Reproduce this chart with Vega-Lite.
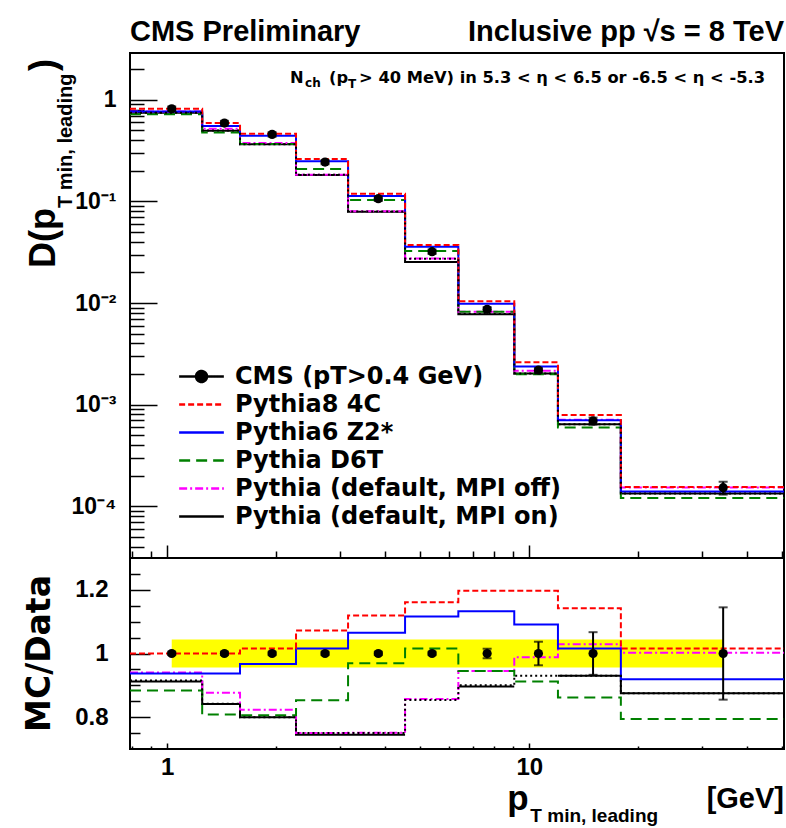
{
  "$schema": "https://vega.github.io/schema/vega-lite/v6.json",
  "padding": {"left": 22, "top": 17, "right": 2, "bottom": 0},
  "background": "white",
  "datasets": {
    "hist": [
      {"s": "Pythia (default, MPI on)", "i": 1, "x0": 0.79, "x1": 1.25, "v": 0.7451, "r": 0.912},
      {"s": "Pythia (default, MPI on)", "i": 2, "x0": 1.25, "x1": 1.59, "v": 0.497, "r": 0.841},
      {"s": "Pythia (default, MPI on)", "i": 3, "x0": 1.59, "x1": 2.27, "v": 0.3656, "r": 0.80},
      {"s": "Pythia (default, MPI on)", "i": 4, "x0": 2.27, "x1": 3.16, "v": 0.1818, "r": 0.745},
      {"s": "Pythia (default, MPI on)", "i": 5, "x0": 3.16, "x1": 4.54, "v": 0.0792, "r": 0.745},
      {"s": "Pythia (default, MPI on)", "i": 6, "x0": 4.54, "x1": 6.37, "v": 0.0253, "r": null},
      {"s": "Pythia (default, MPI on)", "i": 7, "x0": 6.37, "x1": 9.09, "v": 0.007768, "r": 0.896},
      {"s": "Pythia (default, MPI on)", "i": 8, "x0": 9.09, "x1": 12.0, "v": 0.002027, "r": null},
      {"s": "Pythia (default, MPI on)", "i": 9, "x0": 12.0, "x1": 17.9, "v": 0.0006417, "r": 0.93},
      {"s": "Pythia (default, MPI on)", "i": 10, "x0": 17.9, "x1": 50.5, "v": 0.000133, "r": 0.875},
      {"s": "Pythia (default, MPI off)", "i": 1, "x0": 0.79, "x1": 1.25, "v": 0.768, "r": 0.94},
      {"s": "Pythia (default, MPI off)", "i": 2, "x0": 1.25, "x1": 1.59, "v": 0.5183, "r": 0.877},
      {"s": "Pythia (default, MPI off)", "i": 3, "x0": 1.59, "x1": 2.27, "v": 0.3761, "r": 0.823},
      {"s": "Pythia (default, MPI off)", "i": 4, "x0": 2.27, "x1": 3.16, "v": 0.183, "r": 0.75},
      {"s": "Pythia (default, MPI off)", "i": 5, "x0": 3.16, "x1": 4.54, "v": 0.07983, "r": 0.751},
      {"s": "Pythia (default, MPI off)", "i": 6, "x0": 4.54, "x1": 6.37, "v": 0.02742, "r": 0.857},
      {"s": "Pythia (default, MPI off)", "i": 7, "x0": 6.37, "x1": 9.09, "v": 0.008193, "r": 0.945},
      {"s": "Pythia (default, MPI off)", "i": 8, "x0": 9.09, "x1": 12.0, "v": 0.002154, "r": 0.988},
      {"s": "Pythia (default, MPI off)", "i": 9, "x0": 12.0, "x1": 17.9, "v": 0.00071, "r": 1.029},
      {"s": "Pythia (default, MPI off)", "i": 10, "x0": 17.9, "x1": 50.5, "v": 0.0001523, "r": 1.002},
      {"s": "Pythia D6T", "i": 1, "x0": 0.79, "x1": 1.25, "v": 0.7222, "r": 0.884},
      {"s": "Pythia D6T", "i": 2, "x0": 1.25, "x1": 1.59, "v": 0.4775, "r": 0.808},
      {"s": "Pythia D6T", "i": 3, "x0": 1.59, "x1": 2.27, "v": 0.3683, "r": 0.806},
      {"s": "Pythia D6T", "i": 4, "x0": 2.27, "x1": 3.16, "v": 0.2081, "r": 0.853},
      {"s": "Pythia D6T", "i": 5, "x0": 3.16, "x1": 4.54, "v": 0.103, "r": 0.969},
      {"s": "Pythia D6T", "i": 6, "x0": 4.54, "x1": 6.37, "v": 0.03251, "r": 1.016},
      {"s": "Pythia D6T", "i": 7, "x0": 6.37, "x1": 9.09, "v": 0.008193, "r": 0.945},
      {"s": "Pythia D6T", "i": 8, "x0": 9.09, "x1": 12.0, "v": 0.001988, "r": 0.912},
      {"s": "Pythia D6T", "i": 9, "x0": 12.0, "x1": 17.9, "v": 0.0005948, "r": 0.862},
      {"s": "Pythia D6T", "i": 10, "x0": 17.9, "x1": 50.5, "v": 0.0001207, "r": 0.794},
      {"s": "Pythia6 Z2*", "i": 1, "x0": 0.79, "x1": 1.25, "v": 0.7655, "r": 0.937},
      {"s": "Pythia6 Z2*", "i": 2, "x0": 1.25, "x1": 1.59, "v": 0.5538, "r": 0.937},
      {"s": "Pythia6 Z2*", "i": 3, "x0": 1.59, "x1": 2.27, "v": 0.4419, "r": 0.967},
      {"s": "Pythia6 Z2*", "i": 4, "x0": 2.27, "x1": 3.16, "v": 0.2479, "r": 1.016},
      {"s": "Pythia6 Z2*", "i": 5, "x0": 3.16, "x1": 4.54, "v": 0.1132, "r": 1.065},
      {"s": "Pythia6 Z2*", "i": 6, "x0": 4.54, "x1": 6.37, "v": 0.03571, "r": 1.116},
      {"s": "Pythia6 Z2*", "i": 7, "x0": 6.37, "x1": 9.09, "v": 0.009823, "r": 1.133},
      {"s": "Pythia6 Z2*", "i": 8, "x0": 9.09, "x1": 12.0, "v": 0.002378, "r": 1.091},
      {"s": "Pythia6 Z2*", "i": 9, "x0": 12.0, "x1": 17.9, "v": 0.000701, "r": 1.016},
      {"s": "Pythia6 Z2*", "i": 10, "x0": 17.9, "x1": 50.5, "v": 0.0001397, "r": 0.919},
      {"s": "Pythia8 4C", "i": 1, "x0": 0.79, "x1": 1.25, "v": 0.817, "r": 1.0},
      {"s": "Pythia8 4C", "i": 2, "x0": 1.25, "x1": 1.59, "v": 0.591, "r": 1.0},
      {"s": "Pythia8 4C", "i": 3, "x0": 1.59, "x1": 2.27, "v": 0.4643, "r": 1.016},
      {"s": "Pythia8 4C", "i": 4, "x0": 2.27, "x1": 3.16, "v": 0.2616, "r": 1.072},
      {"s": "Pythia8 4C", "i": 5, "x0": 3.16, "x1": 4.54, "v": 0.119, "r": 1.119},
      {"s": "Pythia8 4C", "i": 6, "x0": 4.54, "x1": 6.37, "v": 0.03715, "r": 1.161},
      {"s": "Pythia8 4C", "i": 7, "x0": 6.37, "x1": 9.09, "v": 0.01038, "r": 1.197},
      {"s": "Pythia8 4C", "i": 8, "x0": 9.09, "x1": 12.0, "v": 0.002609, "r": 1.197},
      {"s": "Pythia8 4C", "i": 9, "x0": 12.0, "x1": 17.9, "v": 0.000788, "r": 1.142},
      {"s": "Pythia8 4C", "i": 10, "x0": 17.9, "x1": 50.5, "v": 0.0001544, "r": 1.016},
      {"s": "alt", "i": 1, "x0": 0.79, "x1": 1.25, "v": 0.7476, "r": 0.915},
      {"s": "alt", "i": 2, "x0": 1.25, "x1": 1.59, "v": 0.4976, "r": 0.842},
      {"s": "alt", "i": 3, "x0": 1.59, "x1": 2.27, "v": 0.3656, "r": 0.80},
      {"s": "alt", "i": 4, "x0": 2.27, "x1": 3.16, "v": 0.183, "r": 0.75},
      {"s": "alt", "i": 5, "x0": 3.16, "x1": 4.54, "v": 0.0797, "r": 0.75},
      {"s": "alt", "i": 6, "x0": 4.54, "x1": 6.37, "v": 0.02733, "r": 0.854},
      {"s": "alt", "i": 7, "x0": 6.37, "x1": 9.09, "v": 0.007803, "r": 0.90},
      {"s": "alt", "i": 8, "x0": 9.09, "x1": 12.0, "v": 0.002027, "r": 0.93},
      {"s": "alt", "i": 9, "x0": 12.0, "x1": 17.9, "v": 0.0006417, "r": 0.93},
      {"s": "alt", "i": 10, "x0": 17.9, "x1": 50.5, "v": 0.000133, "r": 0.875}
    ],
    "pts": [
      {"x": 1.03, "y": 0.817, "yl": 0.776, "yh": 0.858, "r": 1, "rl": 0.995, "rh": 1.005, "bl": 0.956, "bh": 1.044},
      {"x": 1.44, "y": 0.591, "yl": 0.561, "yh": 0.621, "r": 1, "rl": 0.995, "rh": 1.005, "bl": 0.956, "bh": 1.044},
      {"x": 1.95, "y": 0.457, "yl": 0.434, "yh": 0.48, "r": 1, "rl": 0.995, "rh": 1.005, "bl": 0.956, "bh": 1.044},
      {"x": 2.73, "y": 0.244, "yl": 0.232, "yh": 0.256, "r": 1, "rl": 0.995, "rh": 1.005, "bl": 0.956, "bh": 1.044},
      {"x": 3.83, "y": 0.1063, "yl": 0.101, "yh": 0.1116, "r": 1, "rl": 0.995, "rh": 1.005, "bl": 0.956, "bh": 1.044},
      {"x": 5.39, "y": 0.032, "yl": 0.0304, "yh": 0.0336, "r": 1, "rl": 0.995, "rh": 1.005, "bl": 0.956, "bh": 1.044},
      {"x": 7.65, "y": 0.00867, "yl": 0.00824, "yh": 0.0091, "r": 1, "rl": 0.985, "rh": 1.015, "bl": 0.956, "bh": 1.044},
      {"x": 10.6, "y": 0.00218, "yl": 0.00207, "yh": 0.00229, "r": 1, "rl": 0.963, "rh": 1.037, "bl": 0.956, "bh": 1.044},
      {"x": 15.0, "y": 0.00069, "yl": 0.000635, "yh": 0.000745, "r": 1, "rl": 0.933, "rh": 1.067, "bl": 0.956, "bh": 1.044},
      {"x": 34.3, "y": 0.000152, "yl": 0.00013, "yh": 0.000174, "r": 1, "rl": 0.855, "rh": 1.145, "bl": 0.956, "bh": 1.044}
    ],
    "one": [{}]
  },
  "config": {
    "view": {"stroke": "black", "strokeWidth": 2},
    "axis": {"domain": false, "grid": false, "labelFont": "Liberation Sans", "labelFontWeight": "bold", "labelFontSize": 24, "labelColor": "black", "tickColor": "black", "tickWidth": 1.5, "labelOverlap": false, "labelBound": false, "title": null},
    "text": {"font": "Liberation Sans", "fontWeight": "bold", "color": "black"}
  },
  "spacing": 0,
  "bounds": "flush",
  "resolve": {"scale": {"color": "independent", "strokeDash": "independent"}},
  "vconcat": [
    {
      "width": 654,
      "height": 505,
      "layer": [
        {
          "data": {"name": "hist"},
          "transform": [{"filter": "datum.s !== 'alt'"}, {"fold": ["x0", "x1"], "as": ["edge", "xe"]}],
          "mark": {"type": "line", "strokeWidth": 2},
          "encoding": {
            "x": {"field": "xe", "type": "quantitative", "scale": {"type": "log", "domain": [0.79, 50.5], "nice": false},
              "axis": {"orient": "bottom", "title": null, "labels": false, "values": [0.8, 0.9, 1, 2, 3, 4, 5, 6, 7, 8, 9, 10, 20, 30, 40, 50],
                "tickSize": {"condition": {"test": "datum.value === 1 || datum.value === 10", "value": -13}, "value": -7}}},
            "y": {"field": "v", "type": "quantitative", "scale": {"type": "log", "domain": [0.0000309, 2.89], "nice": false},
              "axis": {"orient": "left", "title": null,
                "values": [0.00004, 0.00005, 0.00006, 0.00007, 0.00008, 0.00009, 0.0001, 0.0002, 0.0003, 0.0004, 0.0005, 0.0006, 0.0007, 0.0008, 0.0009, 0.001, 0.002, 0.003, 0.004, 0.005, 0.006, 0.007, 0.008, 0.009, 0.01, 0.02, 0.03, 0.04, 0.05, 0.06, 0.07, 0.08, 0.09, 0.1, 0.2, 0.3, 0.4, 0.5, 0.6, 0.7, 0.8, 0.9, 1, 2],
                "labelExpr": "datum.value === 1 ? '1' : datum.value === 0.1 ? '10⁻¹' : datum.value === 0.01 ? '10⁻²' : datum.value === 0.001 ? '10⁻³' : datum.value === 0.0001 ? '10⁻⁴' : ''",
                "tickSize": {"condition": {"test": "datum.value === 1 || datum.value === 0.1 || datum.value === 0.01 || datum.value === 0.001 || datum.value === 0.0001", "value": -27}, "value": -14},
                "labelFontSize": 23,
                "labelPadding": 41}},
            "color": {"field": "s", "type": "nominal",
              "scale": {"domain": ["CMS (pT>0.4 GeV)", "Pythia8 4C", "Pythia6 Z2*", "Pythia D6T", "Pythia (default, MPI off)", "Pythia (default, MPI on)"],
                "range": ["#000000", "#ff0000", "#0000ff", "#008000", "#ff00ff", "#000000"]},
              "legend": {"title": null, "orient": "none", "legendX": 59, "legendY": 311, "labelFont": "DejaVu Sans", "labelFontWeight": "bold", "labelFontSize": 24, "labelColor": "black",
                "symbolType": "M-2,0H2", "symbolSize": 500, "symbolStrokeWidth": 2.5, "rowPadding": 3, "labelOffset": 21, "labelLimit": 600,
                "encode": {"symbols": {"update": {
                  "shape": {"signal": "datum.value === 'CMS (pT>0.4 GeV)' ? 'M-2,0H2M0.49,0A0.49,0.49,0,1,1,-0.49,0A0.49,0.49,0,1,1,0.49,0Z' : 'M-2,0H2'"},
                  "fill": {"signal": "datum.value === 'CMS (pT>0.4 GeV)' ? 'black' : 'transparent'"}}}}}},
            "strokeDash": {"field": "s", "type": "nominal",
              "scale": {"domain": ["CMS (pT>0.4 GeV)", "Pythia8 4C", "Pythia6 Z2*", "Pythia D6T", "Pythia (default, MPI off)", "Pythia (default, MPI on)"],
                "range": [[1, 0], [6, 3], [1, 0], [11, 6], [8, 3, 2, 3], [1, 0]]},
              "legend": {"title": null, "orient": "none", "legendX": 59, "legendY": 311}},
            "order": [{"field": "i", "type": "quantitative"}, {"field": "edge", "type": "ordinal"}]
          }
        },
        {
          "data": {"name": "hist"},
          "transform": [{"filter": "datum.s === 'alt'"}, {"fold": ["x0", "x1"], "as": ["edge", "xe"]}],
          "mark": {"type": "line", "strokeWidth": 2, "color": "black", "strokeDash": [2, 3]},
          "encoding": {
            "x": {"field": "xe", "type": "quantitative"},
            "y": {"field": "v", "type": "quantitative"},
            "order": [{"field": "i", "type": "quantitative"}, {"field": "edge", "type": "ordinal"}]
          }
        },
        {
          "data": {"name": "pts"},
          "mark": {"type": "errorbar", "ticks": {"size": 9}, "thickness": 2, "color": "black"},
          "encoding": {
            "x": {"field": "x", "type": "quantitative"},
            "y": {"field": "yl", "type": "quantitative"},
            "y2": {"field": "yh"}
          }
        },
        {
          "data": {"name": "pts"},
          "mark": {"type": "circle", "size": 85, "color": "black", "opacity": 1},
          "encoding": {
            "x": {"field": "x", "type": "quantitative"},
            "y": {"field": "y", "type": "quantitative"}
          }
        },
        {
          "data": {"name": "one"},
          "mark": {"type": "text", "align": "left", "baseline": "alphabetic", "fontSize": 29, "dy": -12},
          "encoding": {"x": {"datum": 0.79, "type": "quantitative"}, "y": {"datum": 2.89, "type": "quantitative"}, "text": {"value": "CMS Preliminary"}}
        },
        {
          "data": {"name": "one"},
          "mark": {"type": "text", "align": "right", "baseline": "alphabetic", "fontSize": 29, "dy": -12},
          "encoding": {"x": {"datum": 50.5, "type": "quantitative"}, "y": {"datum": 2.89, "type": "quantitative"}, "text": {"value": "Inclusive pp √s = 8 TeV"}}
        },
        {
          "data": {"name": "one"},
          "mark": {"type": "text", "align": "left", "baseline": "alphabetic", "fontSize": 16.3, "font": "DejaVu Sans"},
          "encoding": {"x": {"datum": 2.186, "type": "quantitative"}, "y": {"datum": 1.46, "type": "quantitative"}, "text": {"value": "N"}}
        },
        {
          "data": {"name": "one"},
          "mark": {"type": "text", "align": "left", "baseline": "alphabetic", "fontSize": 12, "font": "DejaVu Sans"},
          "encoding": {"x": {"datum": 2.404, "type": "quantitative"}, "y": {"datum": 1.336, "type": "quantitative"}, "text": {"value": "ch"}}
        },
        {
          "data": {"name": "one"},
          "mark": {"type": "text", "align": "left", "baseline": "alphabetic", "fontSize": 16.3, "font": "DejaVu Sans"},
          "encoding": {"x": {"datum": 2.801, "type": "quantitative"}, "y": {"datum": 1.46, "type": "quantitative"}, "text": {"value": "(p"}}
        },
        {
          "data": {"name": "one"},
          "mark": {"type": "text", "align": "left", "baseline": "alphabetic", "fontSize": 12, "font": "DejaVu Sans"},
          "encoding": {"x": {"datum": 3.16, "type": "quantitative"}, "y": {"datum": 1.31, "type": "quantitative"}, "text": {"value": "T"}}
        },
        {
          "data": {"name": "one"},
          "mark": {"type": "text", "align": "left", "baseline": "alphabetic", "fontSize": 16.3, "font": "DejaVu Sans"},
          "encoding": {"x": {"datum": 3.389, "type": "quantitative"}, "y": {"datum": 1.46, "type": "quantitative"}, "text": {"value": "> 40 MeV) in 5.3 < η < 6.5 or -6.5 < η < -5.3"}}
        },
        {
          "data": {"name": "one"},
          "mark": {"type": "text", "align": "left", "baseline": "alphabetic", "fontSize": 36, "angle": 270},
          "encoding": {"x": {"datum": 0.49, "type": "quantitative"}, "y": {"datum": 0.0221, "type": "quantitative"}, "text": {"value": "D(p"}}
        },
        {
          "data": {"name": "one"},
          "mark": {"type": "text", "align": "left", "baseline": "alphabetic", "fontSize": 20, "angle": 270},
          "encoding": {"x": {"datum": 0.545, "type": "quantitative"}, "y": {"datum": 0.0861, "type": "quantitative"}, "text": {"value": "T min, leading"}}
        },
        {
          "data": {"name": "one"},
          "mark": {"type": "text", "align": "left", "baseline": "alphabetic", "fontSize": 36, "angle": 270},
          "encoding": {"x": {"datum": 0.49, "type": "quantitative"}, "y": {"datum": 1.92, "type": "quantitative"}, "text": {"value": ")"}}
        }
      ]
    },
    {
      "width": 654,
      "height": 191,
      "resolve": {"axis": {"y": "independent"}},
      "layer": [
        {
          "data": {"name": "pts"},
          "mark": {"type": "area", "color": "#ffff00", "opacity": 1},
          "encoding": {
            "x": {"field": "x", "type": "quantitative", "scale": {"type": "log", "domain": [0.79, 50.5], "nice": false},
              "axis": {"orient": "bottom", "title": null, "values": [0.8, 0.9, 1, 2, 3, 4, 5, 6, 7, 8, 9, 10, 20, 30, 40, 50],
                "labelExpr": "datum.value === 1 ? '1' : datum.value === 10 ? '10' : ''",
                "tickSize": {"condition": {"test": "datum.value === 1 || datum.value === 10", "value": -6}, "value": -3},
                "labelPadding": 12}},
            "y": {"field": "bl", "type": "quantitative", "scale": {"domain": [0.7, 1.3], "nice": false, "zero": false},
              "axis": {"orient": "left", "title": null, "values": [0.8, 1, 1.2], "format": "~g", "tickSize": -20, "labelPadding": 42}},
            "y2": {"field": "bh"}
          }
        },
        {
          "data": {"name": "hist"},
          "transform": [{"filter": "datum.s !== 'alt'"}, {"fold": ["x0", "x1"], "as": ["edge", "xe"]}],
          "mark": {"type": "line", "strokeWidth": 2, "invalid": "break-paths-show-domains"},
          "encoding": {
            "x": {"field": "xe", "type": "quantitative"},
            "y": {"field": "r", "type": "quantitative",
              "axis": {"orient": "left", "title": null, "values": [0.75, 0.85, 0.9, 0.95, 1.05, 1.1, 1.15, 1.25], "labels": false, "tickSize": -10}},
            "color": {"field": "s", "type": "nominal",
              "scale": {"domain": ["CMS (pT>0.4 GeV)", "Pythia8 4C", "Pythia6 Z2*", "Pythia D6T", "Pythia (default, MPI off)", "Pythia (default, MPI on)"],
                "range": ["#000000", "#ff0000", "#0000ff", "#008000", "#ff00ff", "#000000"]}, "legend": null},
            "strokeDash": {"field": "s", "type": "nominal",
              "scale": {"domain": ["CMS (pT>0.4 GeV)", "Pythia8 4C", "Pythia6 Z2*", "Pythia D6T", "Pythia (default, MPI off)", "Pythia (default, MPI on)"],
                "range": [[1, 0], [6, 3], [1, 0], [11, 6], [8, 3, 2, 3], [1, 0]]}, "legend": null},
            "order": [{"field": "i", "type": "quantitative"}, {"field": "edge", "type": "ordinal"}]
          }
        },
        {
          "data": {"name": "hist"},
          "transform": [{"filter": "datum.s === 'alt'"}, {"fold": ["x0", "x1"], "as": ["edge", "xe"]}],
          "mark": {"type": "line", "strokeWidth": 2, "color": "black", "strokeDash": [2, 3]},
          "encoding": {
            "x": {"field": "xe", "type": "quantitative"},
            "y": {"field": "r", "type": "quantitative", "axis": null},
            "order": [{"field": "i", "type": "quantitative"}, {"field": "edge", "type": "ordinal"}]
          }
        },
        {
          "data": {"name": "pts"},
          "mark": {"type": "errorbar", "ticks": {"size": 9}, "thickness": 2, "color": "black"},
          "encoding": {
            "x": {"field": "x", "type": "quantitative"},
            "y": {"field": "rl", "type": "quantitative", "axis": null},
            "y2": {"field": "rh"}
          }
        },
        {
          "data": {"name": "pts"},
          "mark": {"type": "circle", "size": 85, "color": "black", "opacity": 1},
          "encoding": {
            "x": {"field": "x", "type": "quantitative"},
            "y": {"field": "r", "type": "quantitative", "axis": null}
          }
        },
        {
          "data": {"name": "one"},
          "mark": {"type": "text", "align": "center", "baseline": "alphabetic", "fontSize": 33, "angle": 270, "font": "DejaVu Sans"},
          "encoding": {"x": {"datum": 0.475, "type": "quantitative"}, "y": {"datum": 1.0, "type": "quantitative", "axis": null}, "text": {"value": "MC/Data"}}
        },
        {
          "data": {"name": "one"},
          "mark": {"type": "text", "align": "left", "baseline": "alphabetic", "fontSize": 35, "dy": 61},
          "encoding": {"x": {"datum": 8.7, "type": "quantitative"}, "y": {"datum": 0.7, "type": "quantitative", "axis": null}, "text": {"value": "p"}}
        },
        {
          "data": {"name": "one"},
          "mark": {"type": "text", "align": "left", "baseline": "alphabetic", "fontSize": 19, "dy": 73},
          "encoding": {"x": {"datum": 10.07, "type": "quantitative"}, "y": {"datum": 0.7, "type": "quantitative", "axis": null}, "text": {"value": "T min, leading"}}
        },
        {
          "data": {"name": "one"},
          "mark": {"type": "text", "align": "right", "baseline": "alphabetic", "fontSize": 29, "dy": 59},
          "encoding": {"x": {"datum": 50.5, "type": "quantitative"}, "y": {"datum": 0.7, "type": "quantitative", "axis": null}, "text": {"value": "[GeV]"}}
        }
      ]
    }
  ]
}
